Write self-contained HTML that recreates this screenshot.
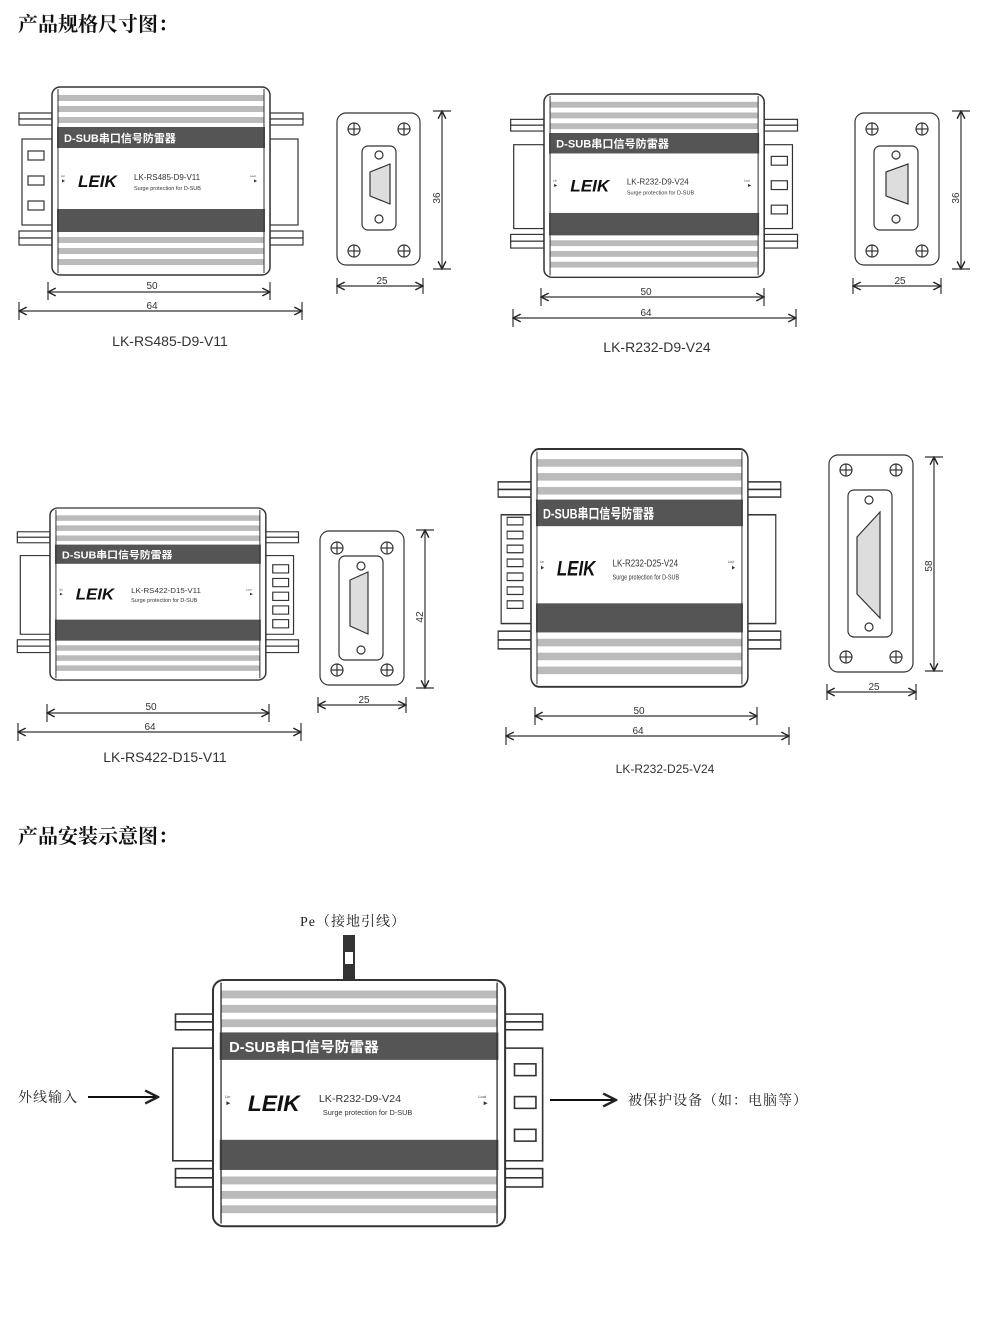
<!DOCTYPE html>
<html><head><meta charset="utf-8"><style>
body{margin:0;background:#fff}
svg{display:block}
.h{font-family:"Liberation Serif","Noto Serif CJK SC",serif;font-weight:bold;font-size:20px;fill:#111}
.lbl{font-family:"Liberation Sans",sans-serif;font-size:14px;fill:#333}
.dm{font-family:"Liberation Sans",sans-serif;font-size:10px;fill:#333}
.cn{font-family:"Liberation Serif","Noto Serif CJK SC",serif;font-size:14px;fill:#222;letter-spacing:1px}
</style></head><body>
<svg width="996" height="1329" viewBox="0 0 996 1329" xmlns="http://www.w3.org/2000/svg">
<defs>
<marker id="a" viewBox="0 0 10 10" refX="9" refY="5" markerWidth="8" markerHeight="8" orient="auto-start-reverse"><path d="M1 1 L9 5 L1 9" fill="none" stroke="#222" stroke-width="1.5"/></marker>
<g id="body">
<rect x="0" y="0" width="218" height="188" rx="8" fill="#fff" stroke="#333" stroke-width="1.5"/>
<g fill="#bbb"><rect x="6" y="8" width="206" height="6"/><rect x="6" y="19" width="206" height="6"/><rect x="6" y="30" width="206" height="6"/>
<rect x="6" y="150" width="206" height="6"/><rect x="6" y="161" width="206" height="6"/><rect x="6" y="172" width="206" height="6"/></g>
<rect x="5" y="40" width="208" height="21" fill="#555"/>
<rect x="5" y="122" width="208" height="23" fill="#555"/>
<line x1="6" y1="2" x2="6" y2="186" stroke="#333"/><line x1="212" y1="2" x2="212" y2="186" stroke="#333"/>
<text x="12" y="55" font-family="Liberation Sans,Noto Sans CJK SC,sans-serif" font-weight="bold" font-size="11" fill="#fff">D-SUB串口信号防雷器</text>
<text x="26" y="100" font-family="Liberation Sans,sans-serif" font-weight="bold" font-style="italic" font-size="17" fill="#111">LEIK</text>
<text x="9" y="90" font-family="Liberation Sans,sans-serif" font-size="3" fill="#333">Lin</text>
<text x="10" y="95" font-size="4" fill="#333">▶</text>
<text x="198" y="90" font-family="Liberation Sans,sans-serif" font-size="3" fill="#333">Lout</text>
<text x="202" y="95" font-size="4" fill="#333">▶</text>
<text x="82" y="103" font-family="Liberation Sans,sans-serif" font-size="5.5" fill="#333">Surge protection for D-SUB</text>
</g>
<g id="fl" fill="#fff" stroke="#333" stroke-width="1.2">
<rect x="-33" y="26" width="33" height="6"/><rect x="-33" y="32" width="33" height="6"/>
<rect x="-33" y="144" width="33" height="7"/><rect x="-33" y="151" width="33" height="7"/>
<rect x="218" y="26" width="33" height="6"/><rect x="218" y="32" width="33" height="6"/>
<rect x="218" y="144" width="33" height="7"/><rect x="218" y="151" width="33" height="7"/>
</g>
<g id="fl2" fill="#fff" stroke="#333" stroke-width="1.2">
<rect x="-28" y="26" width="28" height="6"/><rect x="-28" y="32" width="28" height="6"/>
<rect x="-28" y="144" width="28" height="7"/><rect x="-28" y="151" width="28" height="7"/>
<rect x="218" y="26" width="28" height="6"/><rect x="218" y="32" width="28" height="6"/>
<rect x="218" y="144" width="28" height="7"/><rect x="218" y="151" width="28" height="7"/>
</g>
<g id="ls" fill="#fff" stroke="#333" stroke-width="1.2"><rect x="-30" y="52" width="30" height="86"/></g>
<g id="rs" fill="#fff" stroke="#333" stroke-width="1.2"><rect x="218" y="52" width="28" height="86"/></g>
<g id="sl" fill="#fff" stroke="#333" stroke-width="1.2"><rect x="-24" y="64" width="16" height="9"/><rect x="-24" y="89" width="16" height="9"/><rect x="-24" y="114" width="16" height="9"/></g>
<g id="sr" fill="#fff" stroke="#333" stroke-width="1.2"><rect x="225" y="64" width="16" height="9"/><rect x="225" y="89" width="16" height="9"/><rect x="225" y="114" width="16" height="9"/></g>
<g id="cr" fill="none" stroke="#333" stroke-width="1.2"><circle r="6"/><line x1="-6" x2="6"/><line y1="-6" y2="6"/></g>
</defs>

<text class="h" x="18" y="31">产品规格尺寸图：</text>
<text class="h" x="18" y="843">产品安装示意图：</text>

<g transform="translate(52,87)">
<use href="#ls"/><use href="#sl"/><use href="#rs"/><use href="#fl"/><use href="#body"/>
<text x="82" y="93" font-family="Liberation Sans,sans-serif" font-size="8" fill="#333">LK-RS485-D9-V11</text>
</g>
<g transform="translate(544,94) scale(1.01,0.975)">
<use href="#ls"/><use href="#rs"/><use href="#sr"/><use href="#fl"/><use href="#body"/>
<text x="82" y="93" font-family="Liberation Sans,sans-serif" font-size="8" fill="#333">LK-R232-D9-V24</text>
</g>
<g transform="translate(50,508) scale(0.99,0.915)">
<use href="#ls"/><use href="#rs"/><use href="#fl"/><use href="#body"/>
<g fill="#fff" stroke="#333" stroke-width="1.2"><rect x="225" y="62" width="16" height="9"/><rect x="225" y="77" width="16" height="9"/><rect x="225" y="92" width="16" height="9"/><rect x="225" y="107" width="16" height="9"/><rect x="225" y="122" width="16" height="9"/></g>
<text x="82" y="93" font-family="Liberation Sans,sans-serif" font-size="8" fill="#333">LK-RS422-D15-V11</text>
</g>
<g transform="translate(531,449) scale(0.995,1.265)">
<use href="#ls"/><use href="#rs"/><use href="#fl"/><use href="#body"/>
<g fill="#fff" stroke="#333" stroke-width="1"><rect x="-24" y="54" width="16" height="6"/><rect x="-24" y="65" width="16" height="6"/><rect x="-24" y="76" width="16" height="6"/><rect x="-24" y="87" width="16" height="6"/><rect x="-24" y="98" width="16" height="6"/><rect x="-24" y="109" width="16" height="6"/><rect x="-24" y="120" width="16" height="6"/></g>
<text x="82" y="93" font-family="Liberation Sans,sans-serif" font-size="8" fill="#333">LK-R232-D25-V24</text>
</g>

<g stroke="#333" stroke-width="1.2" fill="none">
<line x1="48" y1="292" x2="270" y2="292" marker-start="url(#a)" marker-end="url(#a)"/><line x1="48" y1="282" x2="48" y2="300"/><line x1="270" y1="282" x2="270" y2="300"/>
<line x1="19" y1="311" x2="302" y2="311" marker-start="url(#a)" marker-end="url(#a)"/><line x1="19" y1="302" x2="19" y2="320"/><line x1="302" y1="302" x2="302" y2="320"/>
<line x1="541" y1="297" x2="764" y2="297" marker-start="url(#a)" marker-end="url(#a)"/><line x1="541" y1="288" x2="541" y2="306"/><line x1="764" y1="288" x2="764" y2="306"/>
<line x1="513" y1="318" x2="796" y2="318" marker-start="url(#a)" marker-end="url(#a)"/><line x1="513" y1="309" x2="513" y2="327"/><line x1="796" y1="309" x2="796" y2="327"/>
<line x1="47" y1="713" x2="269" y2="713" marker-start="url(#a)" marker-end="url(#a)"/><line x1="47" y1="704" x2="47" y2="722"/><line x1="269" y1="704" x2="269" y2="722"/>
<line x1="18" y1="732" x2="301" y2="732" marker-start="url(#a)" marker-end="url(#a)"/><line x1="18" y1="723" x2="18" y2="741"/><line x1="301" y1="723" x2="301" y2="741"/>
<line x1="535" y1="716" x2="757" y2="716" marker-start="url(#a)" marker-end="url(#a)"/><line x1="535" y1="707" x2="535" y2="725"/><line x1="757" y1="707" x2="757" y2="725"/>
<line x1="506" y1="736" x2="789" y2="736" marker-start="url(#a)" marker-end="url(#a)"/><line x1="506" y1="727" x2="506" y2="745"/><line x1="789" y1="727" x2="789" y2="745"/>
</g>
<g class="dm" text-anchor="middle">
<text x="152" y="289">50</text><text x="152" y="309">64</text>
<text x="646" y="295">50</text><text x="646" y="316">64</text>
<text x="151" y="710">50</text><text x="150" y="730">64</text>
<text x="639" y="714">50</text><text x="638" y="734">64</text>
</g>
<g class="lbl" text-anchor="middle">
<text x="170" y="346">LK-RS485-D9-V11</text>
<text x="657" y="352">LK-R232-D9-V24</text>
<text x="165" y="762">LK-RS422-D15-V11</text>
<text x="665" y="773" font-size="12">LK-R232-D25-V24</text>
</g>

<g stroke="#333" stroke-width="1.2" fill="#fff">
<rect x="337" y="113" width="83" height="152" rx="9"/>
<rect x="362" y="146" width="34" height="84" rx="6"/>
<path d="M370 172 L390 164 L390 204 L370 196 Z" fill="#ddd"/>
<circle cx="379" cy="155" r="4"/><circle cx="379" cy="219" r="4"/>
<rect x="855" y="113" width="84" height="152" rx="9"/>
<rect x="874" y="146" width="44" height="84" rx="6"/>
<path d="M886 172 L908 164 L908 204 L886 196 Z" fill="#ddd"/>
<circle cx="896" cy="155" r="4"/><circle cx="896" cy="219" r="4"/>
<rect x="320" y="531" width="84" height="154" rx="9"/>
<rect x="339" y="556" width="44" height="104" rx="6"/>
<path d="M350 580 L368 572 L368 634 L350 626 Z" fill="#ddd"/>
<circle cx="361" cy="566" r="4"/><circle cx="361" cy="650" r="4"/>
<rect x="829" y="455" width="84" height="217" rx="9"/>
<rect x="848" y="490" width="44" height="147" rx="6"/>
<path d="M857 537 L880 512 L880 618 L857 594 Z" fill="#ddd"/>
<circle cx="869" cy="500" r="4"/><circle cx="869" cy="627" r="4"/>
</g>
<use href="#cr" x="354" y="129"/><use href="#cr" x="404" y="129"/><use href="#cr" x="354" y="251"/><use href="#cr" x="404" y="251"/>
<use href="#cr" x="872" y="129"/><use href="#cr" x="922" y="129"/><use href="#cr" x="872" y="251"/><use href="#cr" x="922" y="251"/>
<use href="#cr" x="337" y="548"/><use href="#cr" x="387" y="548"/><use href="#cr" x="337" y="670"/><use href="#cr" x="387" y="670"/>
<use href="#cr" x="846" y="470"/><use href="#cr" x="896" y="470"/><use href="#cr" x="846" y="657"/><use href="#cr" x="896" y="657"/>
<g stroke="#333" stroke-width="1.2" fill="none">
<line x1="442" y1="111" x2="442" y2="269" marker-start="url(#a)" marker-end="url(#a)"/><line x1="433" y1="111" x2="451" y2="111"/><line x1="433" y1="269" x2="451" y2="269"/>
<line x1="337" y1="286" x2="423" y2="286" marker-start="url(#a)" marker-end="url(#a)"/><line x1="337" y1="278" x2="337" y2="294"/><line x1="423" y1="278" x2="423" y2="294"/>
<line x1="961" y1="111" x2="961" y2="269" marker-start="url(#a)" marker-end="url(#a)"/><line x1="952" y1="111" x2="970" y2="111"/><line x1="952" y1="269" x2="970" y2="269"/>
<line x1="853" y1="286" x2="941" y2="286" marker-start="url(#a)" marker-end="url(#a)"/><line x1="853" y1="278" x2="853" y2="294"/><line x1="941" y1="278" x2="941" y2="294"/>
<line x1="425" y1="530" x2="425" y2="688" marker-start="url(#a)" marker-end="url(#a)"/><line x1="416" y1="530" x2="434" y2="530"/><line x1="416" y1="688" x2="434" y2="688"/>
<line x1="318" y1="705" x2="406" y2="705" marker-start="url(#a)" marker-end="url(#a)"/><line x1="318" y1="697" x2="318" y2="713"/><line x1="406" y1="697" x2="406" y2="713"/>
<line x1="934" y1="457" x2="934" y2="671" marker-start="url(#a)" marker-end="url(#a)"/><line x1="925" y1="457" x2="943" y2="457"/><line x1="925" y1="671" x2="943" y2="671"/>
<line x1="827" y1="692" x2="916" y2="692" marker-start="url(#a)" marker-end="url(#a)"/><line x1="827" y1="684" x2="827" y2="700"/><line x1="916" y1="684" x2="916" y2="700"/>
</g>
<g class="dm" text-anchor="middle">
<text x="382" y="284">25</text><text x="900" y="284">25</text><text x="364" y="703">25</text><text x="874" y="690">25</text>
<text transform="translate(440,198) rotate(-90)">36</text>
<text transform="translate(959,198) rotate(-90)">36</text>
<text transform="translate(423,617) rotate(-90)">42</text>
<text transform="translate(932,566) rotate(-90)">58</text>
</g>

<rect x="343" y="935" width="12" height="46" fill="#333"/>
<rect x="345" y="952" width="8" height="12" fill="#fff"/>
<text class="cn" x="300" y="926">Pe（接地引线）</text>
<g transform="translate(213,980) scale(1.34,1.31)">
<use href="#ls"/><use href="#rs"/><use href="#sr"/><use href="#fl2"/><use href="#body"/>
<text x="79" y="93" font-family="Liberation Sans,sans-serif" font-size="8" fill="#333">LK-R232-D9-V24</text>
</g>
<text class="cn" x="18" y="1102">外线输入</text>
<line x1="88" y1="1097" x2="158" y2="1097" stroke="#111" stroke-width="2" marker-end="url(#a)"/>
<line x1="550" y1="1100" x2="616" y2="1100" stroke="#111" stroke-width="2" marker-end="url(#a)"/>
<text class="cn" x="628" y="1105">被保护设备（如：电脑等）</text>
</svg>
</body></html>
